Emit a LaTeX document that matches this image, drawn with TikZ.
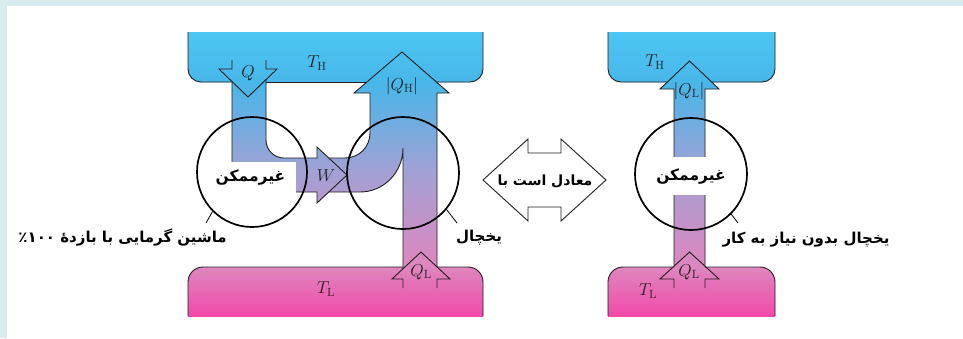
\documentclass[tikz,border=0pt]{standalone}
\usepackage{fontspec}
\newfontfamily\fa[Script=Arabic]{DejaVu Sans}
\TeXXeTstate=1
\definecolor{frameC}{RGB}{214,236,239}
\definecolor{gA}{RGB}{76,198,242}
\definecolor{gB}{RGB}{72,182,233}
\definecolor{gC}{RGB}{165,160,212}
\definecolor{gD}{RGB}{222,134,190}
\definecolor{gE}{RGB}{242,74,170}
\definecolor{lineC}{RGB}{35,31,32}
\newcommand\gradfill{%
 \foreach \ya/\yb/\ca/\cb in {32/82/gA/gB,82/175/gB/gC,175/267/gC/gD,267/316/gD/gE}{%
  \pgfmathtruncatemacro\nn{(\yb-\ya)/2}%
  \foreach \k in {0,...,\nn}{%
   \pgfmathsetmacro\pp{100*\k/\nn}%
   \pgfmathsetmacro\yy{\ya+2*\k}%
   \colorlet{stripc}{\cb!\pp!\ca}%
   \fill[stripc] (180,\yy) rectangle (790,\yy+2.5);%
  }}}
\begin{document}
\begin{tikzpicture}[x=1pt,y=-1pt,
  outl/.style={draw=lineC, line width=0.9pt},
  ring/.style={circle, draw=black, line width=1.7pt, minimum size=#1, inner sep=0pt},
  lbl/.style={font=\fontsize{17}{19}\selectfont, inner sep=0pt, text=lineC},
  fatext/.style={font=\fa\bfseries\fontsize{15}{17}\selectfont, inner sep=0pt},
  impbox/.style={fill=white, inner sep=0pt, font=\fa\bfseries\fontsize{15.5}{17}\selectfont}]
\useasboundingbox (0,0) rectangle (963,338);
\fill[frameC] (0,0) rectangle (963,6);
\fill[frameC] (0,0) rectangle (7,338);
% ---------- fills ----------
\begin{scope}
 \clip[rounded corners=13] (188,0) -- (188,82) -- (483,82) -- (483,0) -- cycle;
 \gradfill
\end{scope}
\begin{scope}
 \clip (0,0) rectangle (963,316);
 \clip[rounded corners=15] (188,338) -- (188,267) -- (483,267) -- (483,338) -- cycle;
 \gradfill
\end{scope}
\begin{scope}
 \clip (232,60) -- (232,69) -- (219,69) -- (232,81.6) -- (232,192) -- (317,192) -- (317,203) -- (347,175) -- (317,147) -- (317,158) -- (284,158) .. controls (274,158) and (266,150) .. (266,140) -- (266,79.6) -- (277,69) -- (266,69) -- (266,60) -- cycle;
 \gradfill
\end{scope}
\begin{scope}
 \clip (370,93) -- (354,93) -- (402,52) -- (449,93) -- (437,93) -- (437,266.9) -- (450,279) -- (437,279) -- (437,288) -- (403,288) -- (403,279) -- (392,279) -- (403,268.8) -- (403,148) .. controls (403,172) and (384,192) .. (360,192) -- (317,192) -- (317,158) -- (345,158) .. controls (359,158) and (370,147) .. (370,133) -- cycle;
 \gradfill
\end{scope}
\begin{scope}
 \clip[rounded corners=13] (608,0) -- (608,82) -- (775,82) -- (775,0) -- cycle;
 \gradfill
\end{scope}
\begin{scope}
 \clip (0,0) rectangle (963,316);
 \clip[rounded corners=15] (608,338) -- (608,267) -- (775,267) -- (775,338) -- cycle;
 \gradfill
\end{scope}
\begin{scope}
 \clip (674,89) -- (660,89) -- (689.5,61) -- (719,89) -- (705,89) -- (705,266.2) -- (719,279) -- (705,279) -- (705,288) -- (674,288) -- (674,279) -- (660,279) -- (674,266.2) -- cycle;
 \gradfill
\end{scope}
% ---------- outlines, left ----------
\draw[outl, rounded corners=13] (232,82) -- (188,82) -- (188,32);
\draw[outl] (266,82) -- (366.9,82);
\draw[outl, rounded corners=13] (436.4,82) -- (483,82) -- (483,32);
\draw[outl] (232,60) -- (232,69) -- (219,69) -- (248,97) -- (277,69) -- (266,69) -- (266,60);
\draw[outl] (232,81.6) -- (232,192) -- (317,192) -- (317,203) -- (347,175) -- (317,147) -- (317,158) -- (284,158) .. controls (274,158) and (266,150) .. (266,140) -- (266,79.6);
\draw[outl] (328.8,158) -- (345,158) .. controls (359,158) and (370,147) .. (370,133) -- (370,93) -- (354,93) -- (402,52) -- (449,93) -- (437,93) -- (437,266.9);
\draw[outl] (328.8,192) -- (360,192) .. controls (384,192) and (403,172) .. (403,148) -- (403,268.8);
\draw[outl] (403,288) -- (403,279) -- (392,279) -- (421,252) -- (450,279) -- (437,279) -- (437,288);
\draw[outl, rounded corners=15] (188,316) -- (188,267) -- (403,267);
\draw[outl, rounded corners=15] (437,267) -- (483,267) -- (483,316);
% ---------- outlines, right ----------
\draw[outl, rounded corners=13] (667.4,82) -- (608,82) -- (608,32);
\draw[outl, rounded corners=13] (711.6,82) -- (775,82) -- (775,32);
\draw[outl] (674,266.2) -- (674,89) -- (660,89) -- (689.5,61) -- (719,89) -- (705,89) -- (705,266.2);
\draw[outl] (674,288) -- (674,279) -- (660,279) -- (689.5,252) -- (719,279) -- (705,279) -- (705,288);
\draw[outl, rounded corners=15] (608,316) -- (608,267) -- (674,267);
\draw[outl, rounded corners=15] (705,267) -- (775,267) -- (775,316);
% ---------- middle double arrow ----------
\draw[outl, fill=white] (483,180) -- (528,139) -- (528,153) -- (561,153) -- (561,139) -- (606,180) -- (561,221) -- (561,207) -- (528,207) -- (528,221) -- cycle;
\node[fatext, font=\fa\bfseries\fontsize{14}{16}\selectfont] (eqtxt) at (545,181) {\beginR معادل است با\endR};
% ---------- impossible boxes ----------
\node[impbox, minimum width=91pt, minimum height=31pt] (impL) at (250.5,177) {\beginR غیرممکن\endR};
\node[impbox, minimum width=86pt, minimum height=38pt] (impR) at (691,176) {\beginR غیرممکن\endR};
% ---------- circles ----------
\node[ring=110pt] (engL) at (252,172) {};
\node[ring=112pt] (frL) at (403,173) {};
\node[ring=112pt] (frR) at (691,174) {};
\coordinate (ldL) at (206,223);
\coordinate (ldF) at (457,223);
\coordinate (ldR) at (738,223);
\draw[line width=0.8pt] (engL.225) -- (ldL);
\draw[line width=0.8pt] (frL.-40) -- (ldF);
\draw[line width=0.8pt] (frR.-45) -- (ldR);
% ---------- labels ----------
\node[fatext, anchor=east] (labL) at (227,238) {\beginR ماشین گرمایی با بازدهٔ ٪۱۰۰\endR};
\node[fatext] (labF) at (479,238) {\beginR یخچال\endR};
\node[fatext] (labR) at (806,240) {\beginR یخچال بدون نیاز به کار\endR};
\node[lbl] (th1) at (317,63) {$T_{\mathrm{H}}$};
\node[lbl] (q1) at (248,73) {$Q$};
\node[lbl] (qh) at (402,86) {$|Q_{\mathrm{H}}|$};
\node[lbl] (w) at (326,176) {$W$};
\node[lbl] (tl1) at (326,289) {$T_{\mathrm{L}}$};
\node[lbl] (ql1) at (421,272) {$Q_{\mathrm{L}}$};
\node[lbl] (th2) at (655,62) {$T_{\mathrm{H}}$};
\node[lbl] (ql2) at (689,91) {$|Q_{\mathrm{L}}|$};
\node[lbl] (tl2) at (648,291) {$T_{\mathrm{L}}$};
\node[lbl] (ql3) at (689,272) {$Q_{\mathrm{L}}$};
\end{tikzpicture}
\end{document}
